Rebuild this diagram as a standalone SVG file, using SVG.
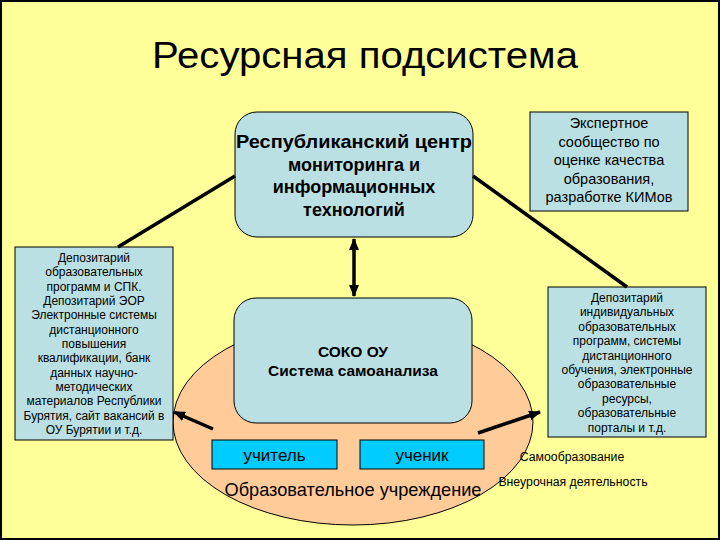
<svg xmlns="http://www.w3.org/2000/svg" width="720" height="540" viewBox="0 0 720 540">
<defs>
<marker id="ah" viewBox="0 0 12 10" refX="11" refY="5" markerWidth="12" markerHeight="10" markerUnits="userSpaceOnUse" orient="auto-start-reverse">
<path d="M0,0 L12,5 L0,10 Z" fill="#000"/>
</marker>
<style>
text{font-family:"Liberation Sans",Arial,sans-serif;fill:#000;text-anchor:middle}
.lb{fill:#BBE0E3;stroke:#000;stroke-width:1}
.cy{fill:#00CCFF;stroke:#000;stroke-width:1}
.b{font-weight:bold;font-size:18px}
.s{font-size:12px}
.m{font-size:14.5px}
.conn{stroke:#000;stroke-width:3.5;fill:none}
</style>
</defs>
<rect x="0" y="0" width="720" height="540" fill="#FFFF99"/>
<rect x="1" y="1" width="718" height="538" fill="none" stroke="#000" stroke-width="2"/>
<text x="365" y="68" font-size="36" textLength="426" lengthAdjust="spacingAndGlyphs">Ресурсная подсистема</text>

<g id="ou">
<ellipse cx="353" cy="422" rx="180" ry="103" fill="#FFCC99" stroke="#000" stroke-width="1"/>
<text x="353" y="496" font-size="18.5" textLength="257" lengthAdjust="spacingAndGlyphs">Образовательное учреждение</text>
</g>

<g id="center">
<rect class="lb" x="235" y="112" width="238" height="125" rx="22"/>
<text class="b" x="354" y="148" textLength="236" lengthAdjust="spacingAndGlyphs">Республиканский центр</text>
<text class="b" x="354" y="170.5">мониторинга и</text>
<text class="b" x="354" y="193">информационных</text>
<text class="b" x="354" y="215.5">технологий</text>
</g>

<g id="experts">
<rect class="lb" x="530" y="112" width="158" height="99"/>
<text class="m" x="609" y="128">Экспертное</text>
<text class="m" x="609" y="146.5">сообщество по</text>
<text class="m" x="609" y="165">оценке качества</text>
<text class="m" x="609" y="183.5">образования,</text>
<text class="m" x="609" y="202">разработке КИМов</text>
</g>

<g id="depo-left">
<rect class="lb" x="15" y="247" width="158" height="193"/>
<text class="s" x="94" y="262">Депозитарий</text>
<text class="s" x="94" y="276.3">образовательных</text>
<text class="s" x="94" y="290.7">программ и СПК.</text>
<text class="s" x="94" y="305">Депозитарий ЭОР</text>
<text class="s" x="94" y="319.3">Электронные системы</text>
<text class="s" x="94" y="333.7">дистанционного</text>
<text class="s" x="94" y="348">повышения</text>
<text class="s" x="94" y="362.3">квалификации, банк</text>
<text class="s" x="94" y="376.7">данных научно-</text>
<text class="s" x="94" y="391">методических</text>
<text class="s" x="94" y="405.3">материалов Республики</text>
<text class="s" x="94" y="419.7">Бурятия, сайт вакансий в</text>
<text class="s" x="94" y="434">ОУ Бурятии и т.д.</text>
</g>

<g id="depo-right">
<rect class="lb" x="548" y="287" width="158" height="150"/>
<text class="s" x="627" y="302">Депозитарий</text>
<text class="s" x="627" y="316.4">индивидуальных</text>
<text class="s" x="627" y="330.8">образовательных</text>
<text class="s" x="627" y="345.2">программ, системы</text>
<text class="s" x="627" y="359.6">дистанционного</text>
<text class="s" x="627" y="374">обучения, электронные</text>
<text class="s" x="627" y="388.4">образовательные</text>
<text class="s" x="627" y="402.8">ресурсы,</text>
<text class="s" x="627" y="417.2">образовательные</text>
<text class="s" x="627" y="431.6">порталы и т.д.</text>
</g>

<g id="soko">
<rect class="lb" x="234" y="298" width="238" height="125" rx="22"/>
<text x="353" y="357" font-size="15.5" font-weight="bold">СОКО ОУ</text>
<text x="353" y="376" font-size="15.5" font-weight="bold">Система самоанализа</text>
</g>

<g id="teacher">
<rect class="cy" x="212" y="440" width="125" height="29"/>
<text x="274.5" y="461" font-size="17">учитель</text>
</g>
<g id="student">
<rect class="cy" x="360" y="440" width="124" height="29"/>
<text x="422" y="461" font-size="17">ученик</text>
</g>

<g id="self">
<text x="572" y="461" font-size="12.3">Самообразование</text>
</g>
<g id="extra">
<text x="573" y="486" font-size="12.3">Внеурочная деятельность</text>
</g>

<g id="connectors">
<line class="conn" x1="235" y1="176" x2="118" y2="247"/>
<line class="conn" x1="473" y1="176" x2="627" y2="287"/>
<line class="conn" x1="354" y1="239" x2="354" y2="296" stroke-width="3" marker-start="url(#ah)" marker-end="url(#ah)"/>
<line class="conn" x1="213" y1="429" x2="174" y2="412" stroke-width="3.5" marker-end="url(#ah)"/>
<line class="conn" x1="478" y1="433" x2="540" y2="412" stroke-width="3.5" marker-end="url(#ah)"/>
</g>
</svg>
